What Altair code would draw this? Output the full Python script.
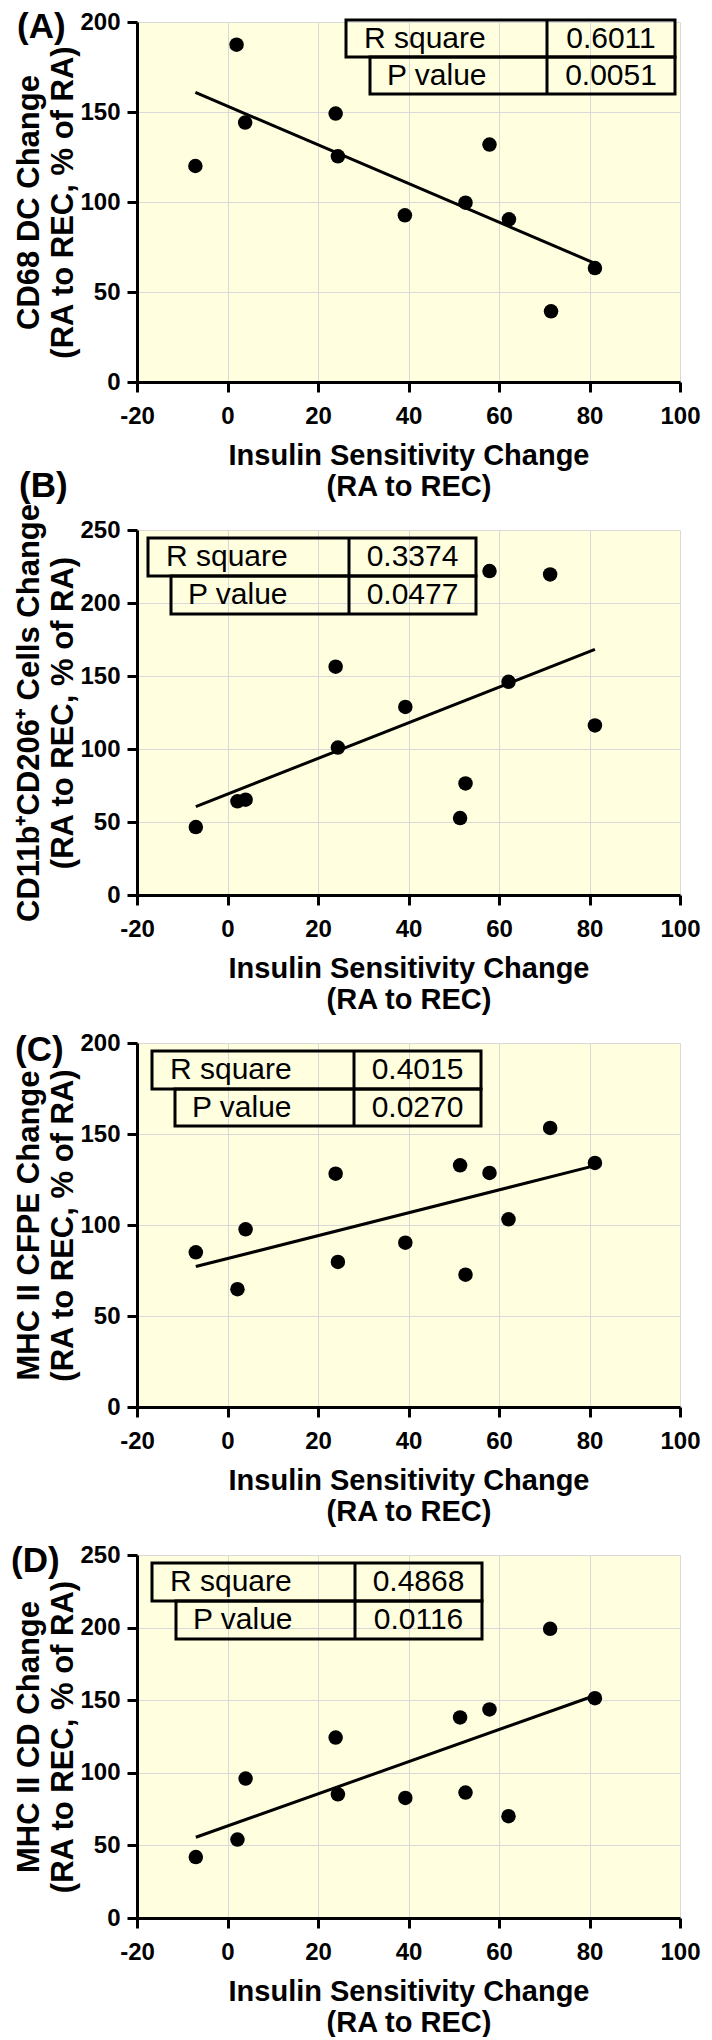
import altair as alt
import pandas as pd

FONT = "Liberation Sans, Arial, Helvetica, sans-serif"

# ---------------- data ----------------
x_ticks = [-20, 0, 20, 40, 60, 80, 100]
x_title = ["Insulin Sensitivity Change", "(RA to REC)"]

x_a = [-7.1, 2.0, 3.9, 23.9, 24.4, 39.2, 52.6, 57.9, 62.2, 71.5, 81.2]
y_a = [120.0, 187.4, 144.1, 149.1, 125.4, 92.6, 99.6, 131.9, 90.4, 39.3, 63.3]

x_bcd = [-7.0, 2.2, 4.0, 23.9, 24.4, 39.3, 51.4, 52.6, 57.9, 62.1, 71.3, 81.2]
y_b = [46.5, 64.2, 65.3, 156.4, 101.0, 128.8, 52.7, 76.4, 221.9, 146.0, 219.6, 116.1]
y_c = [85.0, 64.7, 97.6, 128.2, 79.7, 90.3, 132.8, 72.7, 128.6, 103.1, 153.3, 134.1]
y_d = [42.0, 54.0, 96.0, 124.3, 85.2, 82.7, 138.1, 86.4, 143.6, 70.1, 199.2, 151.4]

tags = ["(A)", "(B)", "(C)", "(D)"]
y_titles = [
    ["CD68 DC Change", "(RA to REC, % of RA)"],
    ["CD11b\u207aCD206\u207a Cells Change", "(RA to REC, % of RA)"],
    ["MHC II CFPE Change", "(RA to REC, % of RA)"],
    ["MHC II CD Change", "(RA to REC, % of RA)"],
]
y_max = [200, 250, 200, 250]
table_labels = ["R square", "P value"]
r2_vals = ["0.6011", "0.3374", "0.4015", "0.4868"]
p_vals = ["0.0051", "0.0477", "0.0270", "0.0116"]


def one(text):
    return alt.Chart(pd.DataFrame({"t": [text]}))


def panel(xs, ys, ymax, height, ytitle, tag, r2, pv, tab, tagpos):
    df = pd.DataFrame({"x": xs, "y": ys})
    base = alt.Chart(df)
    xenc = alt.X(
        "x:Q",
        scale=alt.Scale(domain=[-20, 100], nice=False, zero=False),
        axis=alt.Axis(values=x_ticks, title=x_title, labelExpr="'' + datum.value"),
    )
    yenc = alt.Y(
        "y:Q",
        scale=alt.Scale(domain=[0, ymax], nice=False),
        axis=alt.Axis(values=list(range(0, ymax + 1, 50)), title=ytitle),
    )
    pts = base.mark_circle(size=210, color="black", opacity=1).encode(x=xenc, y=yenc)
    fit = (
        base.transform_regression("x", "y")
        .mark_line(color="black", strokeWidth=3)
        .encode(x=xenc, y=yenc)
    )
    l1, l2, r, t, m, b, d = tab  # row1 left, row2 left, right, top, middle, bottom, divider
    rect1 = one("r1").mark_rect(filled=False, color="black", strokeWidth=3).encode(
        x=alt.value(l1), x2=alt.value(r), y=alt.value(t), y2=alt.value(m)
    )
    rect2 = one("r2").mark_rect(filled=False, color="black", strokeWidth=3).encode(
        x=alt.value(l2), x2=alt.value(r), y=alt.value(m), y2=alt.value(b)
    )
    div = one("d").mark_rule(color="black", strokeWidth=3).encode(
        x=alt.value(d), y=alt.value(t), y2=alt.value(b)
    )
    tstyle = dict(font=FONT, fontSize=30, color="black", baseline="middle")
    txt1 = one(table_labels[0]).mark_text(align="left", **tstyle).encode(
        x=alt.value(l1 + 18), y=alt.value((t + m) / 2), text="t:N"
    )
    txt2 = one(table_labels[1]).mark_text(align="left", **tstyle).encode(
        x=alt.value(l2 + 17), y=alt.value((m + b) / 2), text="t:N"
    )
    val1 = one(r2).mark_text(align="center", **tstyle).encode(
        x=alt.value((d + r) / 2), y=alt.value((t + m) / 2), text="t:N"
    )
    val2 = one(pv).mark_text(align="center", **tstyle).encode(
        x=alt.value((d + r) / 2), y=alt.value((m + b) / 2), text="t:N"
    )
    lab = one(tag).mark_text(
        align="left", baseline="top", font=FONT, fontSize=35, fontWeight="bold", color="black"
    ).encode(x=alt.value(tagpos[0]), y=alt.value(tagpos[1]), text="t:N")
    return alt.layer(fit, pts, rect1, rect2, div, txt1, txt2, val1, val2, lab).properties(
        width=543, height=height
    )


pa = panel(x_a, y_a, y_max[0], 360, y_titles[0], tags[0], r2_vals[0], p_vals[0],
           (209, 233, 538, -2, 35, 72, 410), (-120, -12))
pb = panel(x_bcd, y_b, y_max[1], 365, y_titles[1], tags[1], r2_vals[1], p_vals[1],
           (11, 34, 339, 8, 46, 84, 212), (-118, -61))
pc = panel(x_bcd, y_c, y_max[2], 364, y_titles[2], tags[2], r2_vals[2], p_vals[2],
           (15, 38, 344, 8, 46, 83, 217), (-122, -10))
pdd = panel(x_bcd, y_d, y_max[3], 363, y_titles[3], tags[3], r2_vals[3], p_vals[3],
            (15, 39, 345, 8, 46, 84, 218), (-126, -11))

chart = (
    alt.vconcat(pa, pb, pc, pdd, spacing=148, bounds="flush")
    .properties(padding={"left": 3, "top": 2, "right": 0, "bottom": 0})
    .configure_view(fill="#FFFFE0", strokeWidth=0)
    .configure_axis(
        domainColor="black", domainWidth=3, tickColor="black", tickWidth=3, tickSize=10,
        gridColor="#D9D9D9", gridWidth=1, labelFont=FONT, labelFontSize=24,
        labelFontWeight="bold", labelColor="black", titleFont=FONT, titleColor="black",
        titleFontWeight="bold", labelFlush=False, labelOverlap=False,
    )
    .configure_axisX(labelPadding=12, titlePadding=13, titleFontSize=29, titleLineHeight=31)
    .configure_axisY(labelPadding=7, titlePadding=0, titleFontSize=31, titleLineHeight=34,
                     titleLimit=1000)
)

chart.save("out.html", embed_options={"renderer": "svg", "actions": False})
